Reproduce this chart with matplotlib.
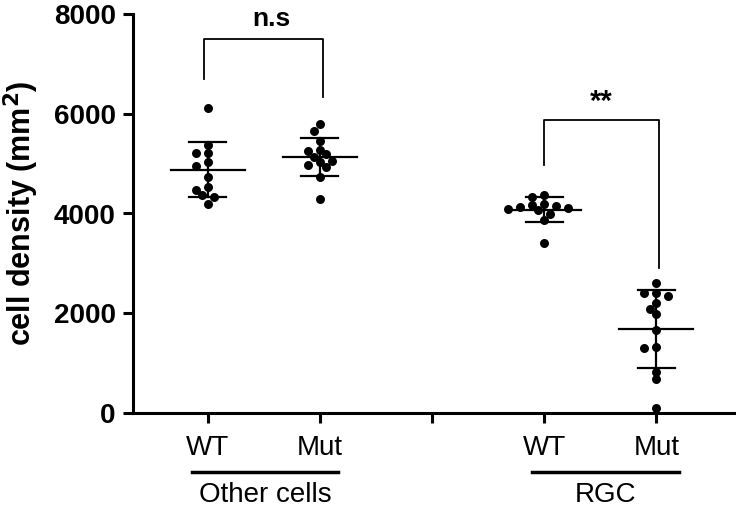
import numpy as np
import matplotlib.pyplot as plt
import matplotlib.transforms as mtransforms

plt.rcParams['font.family'] = ['Liberation Sans', 'DejaVu Sans']

# data (cells / mm2)
wt_other = [6109, 5373, 5219, 5219, 5027, 4952, 4738, 4525, 4471, 4377, 4324, 4184]
mut_other = [5788, 5654, 5447, 5279, 5247, 5187, 5133, 5032, 5053, 4972, 4932, 4732, 4291]
wt_rgc = [4324, 4364, 4170, 4084, 4137, 4157, 4190, 4070, 4117, 3990, 3870, 3403]
mut_rgc = [2613, 2400, 2346, 2400, 2199, 2079, 1979, 1664, 1297, 1329, 828, 676, 106]

groups = [wt_other, mut_other, wt_rgc, mut_rgc]
positions = [1, 2, 4, 5]
tick_pos = [1, 2, 3, 4, 5]
tick_labels = ['WT', 'Mut', '', 'WT', 'Mut']
group_names = ['Other cells', 'RGC']
sig_labels = ['n.s', '**']

fig = plt.figure(figsize=(7.36, 5.07), dpi=100)
ax = fig.add_axes([133/736, 94/507, 1 - 133/736, 399/507])
ax.set_xlim(0.333, 5.71)
ax.set_ylim(0, 8000)

# pixel scales, for the swarm layout
px_x = 112.3           # px per x unit
px_y = 399 / 8000      # px per y unit


def swarm(vals, step=6.0, dmin=7.5):
    # place points on the smallest horizontal offset free of overlap
    order = np.argsort(vals)[::-1]
    placed = []
    offs = np.zeros(len(vals))
    for i in order:
        yp = vals[i] * px_y
        cands = [0]
        for j in range(1, 12):
            cands += [-j, j]
        for c in cands:
            xp = c * step
            if all((xp - a) ** 2 + (yp - b) ** 2 >= dmin ** 2 for a, b in placed):
                break
        placed.append((xp, yp))
        offs[i] = xp / px_x
    return offs


for vals, p in zip(groups, positions):
    vals = np.array(vals, dtype=float)
    xs = p + swarm(vals)
    ax.scatter(xs, vals, s=42, color='black', zorder=3, linewidths=0)
    m = vals.mean()
    sd = vals.std(ddof=1)
    ax.plot([p - 0.33, p + 0.33], [m, m], color='black', lw=1.6, zorder=4)
    ax.plot([p, p], [m - sd, m + sd], color='black', lw=1.6, zorder=4)
    for v in (m - sd, m + sd):
        ax.plot([p - 0.165, p + 0.165], [v, v], color='black', lw=1.6, zorder=4)

# significance brackets
brackets = [(0.97, 2.03, 6697, 6336, 7493), (4.0, 5.02, 4972, 2907, 5875)]
for (x1, x2, yl, yr, yt), lab in zip(brackets, sig_labels):
    ax.plot([x1, x1, x2, x2], [yl, yt, yt, yr], color='black', lw=1.3)
ax.text(1.57, 7900, sig_labels[0], ha='center', va='center', fontsize=19, fontweight='bold')
ax.text(4.51, 6240, sig_labels[1], ha='center', va='center', fontsize=21, fontweight='bold')

ax.spines['top'].set_visible(False)
ax.spines['right'].set_visible(False)
ax.spines['left'].set_linewidth(2.2)
ax.spines['bottom'].set_linewidth(2.2)

ax.set_yticks([0, 2000, 4000, 6000, 8000])
ax.set_yticklabels(['0', '2000', '4000', '6000', '8000'], fontsize=20, fontweight='bold')
ax.set_xticks(tick_pos)
ax.set_xticklabels(tick_labels, fontsize=20)
ax.tick_params(axis='both', length=7.5, width=2.2, direction='out')
ax.tick_params(axis='x', pad=8)
ax.tick_params(axis='y', pad=5)

ax.set_ylabel('cell density (mm$^\\mathbf{2}$)', fontsize=22, fontweight='bold')
ax.yaxis.set_label_coords(-0.152, 0.5)

# group underline + label
trans = mtransforms.blended_transform_factory(ax.transData, ax.transAxes)
spans = [(0.86, 2.16), (3.89, 5.2)]
for (a, b), name in zip(spans, group_names):
    ax.plot([a, b], [-0.148, -0.148], color='black', lw=2.5, transform=trans, clip_on=False)
    ax.text((a + b) / 2, -0.205, name, ha='center', va='center', fontsize=20, transform=trans)

fig.savefig('out.png', dpi=100)
